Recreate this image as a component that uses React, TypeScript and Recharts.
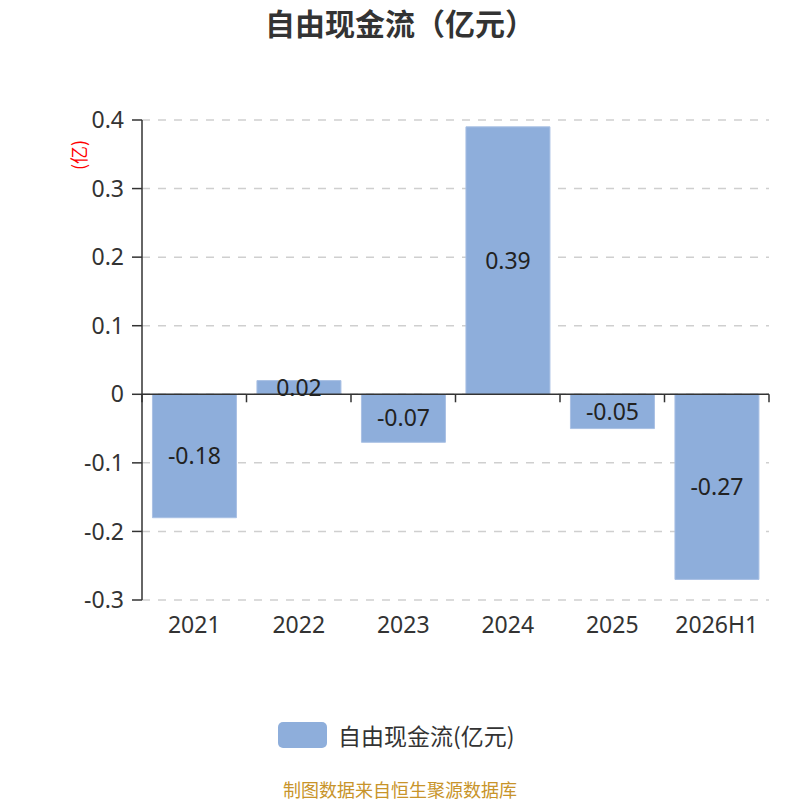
import React from "react";
import { BarChart, Bar, XAxis, YAxis, CartesianGrid, ReferenceLine, LabelList } from "recharts";

const categories = ["2021", "2022", "2023", "2024", "2025", "2026H1"];
const values = [-0.18, 0.02, -0.07, 0.39, -0.05, -0.27];
const yTicks = [0.4, 0.3, 0.2, 0.1, 0, -0.1, -0.2, -0.3];

const data = categories.map((c, i) => ({ name: c, value: values[i] }));

const FONT = "'Noto Sans', 'Noto Sans CJK SC', sans-serif";
const CJK = "'Noto Sans CJK SC', sans-serif";
const BAR = "#8eaedb";

const ZeroAxis = (p: any) => {
  const { x1, x2, y1 } = p;
  const n = categories.length;
  const step = (x2 - x1) / n;
  const ticks = [];
  for (let i = 0; i <= n; i++) {
    const x = x1 + step * i;
    ticks.push(<line key={i} x1={x} x2={x} y1={y1} y2={y1 + 8} stroke="#333" strokeWidth={1.5} />);
  }
  return (
    <g>
      <line x1={x1} x2={x2} y1={y1} y2={y1} stroke="#333" strokeWidth={1.5} />
      {ticks}
    </g>
  );
};

export default function App() {
  return (
    <div style={{ position: "absolute", left: 0, top: 0, width: 800, height: 800, fontFamily: FONT, background: "#fff" }}>
      <div style={{ position: "absolute", left: 0, width: 800, top: 4, textAlign: "center", fontSize: 30, fontWeight: "bold", color: "#333", lineHeight: "36px", fontFamily: CJK }}>
        自由现金流（亿元）
      </div>
      <div style={{ position: "absolute", left: 78, top: 155, transform: "translate(-50%, -50%) rotate(-90deg)", color: "#ff0000", fontSize: 18, whiteSpace: "nowrap", fontFamily: CJK, lineHeight: "20px" }}>
        (亿)
      </div>
      <div style={{ position: "absolute", left: 0, top: 0 }}>
        <BarChart width={800} height={800} data={data} margin={{ top: 120, right: 31, bottom: 170, left: 0 }} barCategoryGap="10%">
          <CartesianGrid vertical={false} stroke="#cfcfcf" strokeWidth={1.5} strokeDasharray="8 8" />
          <XAxis dataKey="name" height={30} axisLine={false} tickLine={false} tickSize={0} tickMargin={17} tick={{ fontSize: 23, fill: "#333", fontFamily: FONT }} interval={0} />
          <YAxis
            width={142}
            domain={[-0.3, 0.4]}
            ticks={yTicks}
            interval={0}
            tickSize={10}
            tickMargin={8}
            axisLine={{ stroke: "#333", strokeWidth: 1.5 }}
            tickLine={{ stroke: "#333", strokeWidth: 1.5 }}
            tick={{ fontSize: 23, fill: "#333", fontFamily: FONT }}
            tickFormatter={(v: number) => String(v)}
          />
          <Bar dataKey="value" fill={BAR} stroke="#a9c0e4" strokeWidth={1} isAnimationActive={false}>
            <LabelList dataKey="value" position="center" fill="#222" stroke="none" fontSize={23} fontFamily={FONT} />
          </Bar>
          <ReferenceLine y={0} stroke="#333" shape={ZeroAxis} />
        </BarChart>
      </div>
      <div style={{ position: "absolute", left: 278, top: 722, width: 49, height: 26, borderRadius: 5, background: BAR }} />
      <div style={{ position: "absolute", left: 338, top: 720, fontSize: 23, color: "#333", lineHeight: "30px", whiteSpace: "nowrap", fontFamily: CJK }}>
        自由现金流(亿元)
      </div>
      <div style={{ position: "absolute", left: 0, width: 800, top: 780, textAlign: "center", fontSize: 18, color: "#c8942a", lineHeight: "19px", fontFamily: CJK }}>
        制图数据来自恒生聚源数据库
      </div>
    </div>
  );
}
